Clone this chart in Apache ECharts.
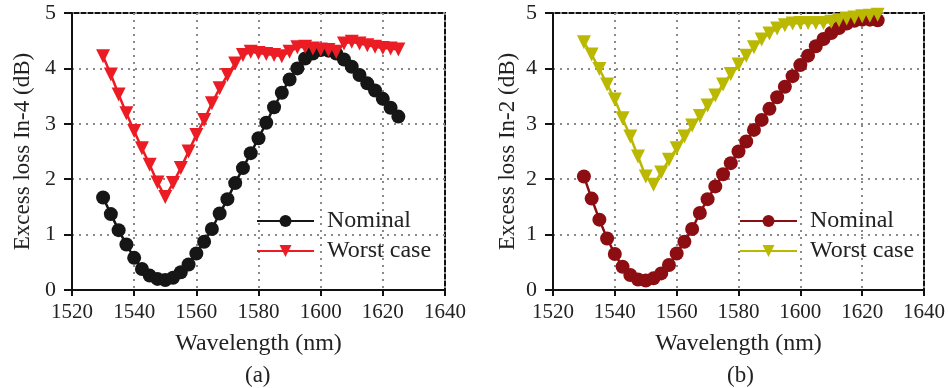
<!DOCTYPE html>
<html><head><meta charset="utf-8">
<script src="https://cdn.jsdelivr.net/npm/echarts@6/dist/echarts.min.js"></script>
<style>html,body{margin:0;padding:0;background:#fff}#c{width:948px;height:388px}</style>
</head><body><div id="c"></div>
<script>
var wavelengths = [1530,1532.5,1535,1537.5,1540,1542.5,1545,1547.5,1550,1552.5,1555,1557.5,1560,1562.5,1565,1567.5,1570,1572.5,1575,1577.5,1580,1582.5,1585,1587.5,1590,1592.5,1595,1597.5,1600,1602.5,1605,1607.5,1610,1612.5,1615,1617.5,1620,1622.5,1625];
var nominalA = [1.67,1.37,1.08,0.82,0.58,0.38,0.26,0.20,0.18,0.22,0.32,0.46,0.66,0.87,1.10,1.38,1.64,1.93,2.20,2.47,2.74,3.02,3.30,3.56,3.80,4.00,4.18,4.27,4.33,4.32,4.27,4.16,4.03,3.88,3.73,3.60,3.45,3.29,3.13];
var worstA = [4.22,3.89,3.53,3.19,2.87,2.56,2.26,1.94,1.68,1.93,2.20,2.50,2.80,3.07,3.37,3.64,3.88,4.09,4.24,4.30,4.28,4.26,4.24,4.22,4.30,4.38,4.39,4.36,4.34,4.33,4.30,4.45,4.48,4.45,4.42,4.39,4.37,4.36,4.34];
var nominalB = [2.05,1.65,1.27,0.93,0.65,0.42,0.27,0.19,0.17,0.21,0.30,0.45,0.66,0.87,1.10,1.39,1.64,1.87,2.09,2.29,2.50,2.68,2.89,3.07,3.27,3.48,3.67,3.86,4.06,4.23,4.40,4.53,4.64,4.73,4.81,4.86,4.88,4.88,4.87];
var worstB = [4.47,4.25,3.99,3.71,3.44,3.10,2.77,2.41,2.05,1.90,2.12,2.35,2.56,2.77,2.97,3.14,3.33,3.51,3.71,3.90,4.07,4.23,4.38,4.52,4.63,4.72,4.78,4.81,4.82,4.82,4.82,4.82,4.84,4.87,4.90,4.92,4.94,4.95,4.97];
var xTicks = [1520,1540,1560,1580,1600,1620,1640];
var yTicks = [0,1,2,3,4,5];

function pairs(xs, ys){ return xs.map(function(x,i){return [x, ys[i]];}); }
var FONT = 'Liberation Serif';
function xAxis(idx){
  return {gridIndex: idx, type:'value', min:xTicks[0], max:xTicks[xTicks.length-1], interval:20,
    name:'Wavelength (nm)', nameLocation:'middle', nameGap:42,
    nameTextStyle:{fontFamily:FONT, fontSize:24, color:'#222'},
    axisLine:{show:true, onZero:false, lineStyle:{color:'#111', width:2}},
    axisTick:{show:true, inside:false, length:6, lineStyle:{color:'#111', width:2}},
    axisLabel:{fontFamily:FONT, fontSize:21, color:'#222', margin:12, formatter:function(v){return String(v);}},
    splitLine:{show:true, lineStyle:{color:'#8a8a8a', width:2, type:[2,5]}}};
}
function yAxis(idx, name, gap){
  return {gridIndex: idx, type:'value', min:yTicks[0], max:yTicks[yTicks.length-1], interval:1,
    name:name, nameLocation:'middle', nameGap:gap, nameRotate:90,
    nameTextStyle:{fontFamily:FONT, fontSize:23, color:'#222'},
    axisLine:{show:true, onZero:false, lineStyle:{color:'#111', width:2}},
    axisTick:{show:true, inside:false, length:8, lineStyle:{color:'#111', width:2}},
    axisLabel:{fontFamily:FONT, fontSize:22, color:'#222', margin:16, formatter:function(v){return String(v);}},
    splitLine:{show:true, lineStyle:{color:'#8a8a8a', width:2, type:[2,5]}}};
}
function lineSeries(name, xi, data, color, symbol, rot){
  return {name:name, type:'line', xAxisIndex:xi, yAxisIndex:xi, data:data,
    symbol:symbol, symbolSize:14, symbolRotate:rot||0, showSymbol:true,
    lineStyle:{color:color, width:2.5}, itemStyle:{color:color}, animation:false};
}
var chart = echarts.init(document.getElementById('c'), null, {renderer:'canvas'});
var strip = function(n){ return n.replace(' (b)',''); };
var legendText = {fontFamily:FONT, fontSize:24, color:'#222', padding:[0,0,0,8]};
chart.setOption({
  backgroundColor:'#fff',
  animation:false,
  grid:[
    {left:72, top:13, width:373, height:277, show:true, borderColor:'#111', borderWidth:2, backgroundColor:'transparent'},
    {left:553, top:13, width:374, height:277, show:true, borderColor:'#111', borderWidth:2, backgroundColor:'transparent'}
  ],
  xAxis:[xAxis(0), xAxis(1)],
  yAxis:[yAxis(0,'Excess loss In-4 (dB)',38), yAxis(1,'Excess loss In-2 (dB)',34)],
  legend:[
    {data:['Nominal','Worst case'], orient:'vertical', left:256, top:209, itemWidth:57, itemHeight:15, itemGap:6,
     textStyle:legendText, formatter:strip, backgroundColor:'transparent', padding:0},
    {data:['Nominal (b)','Worst case (b)'], orient:'vertical', left:739, top:209, itemWidth:57, itemHeight:15, itemGap:6,
     textStyle:legendText, formatter:strip, backgroundColor:'transparent', padding:0}
  ],
  graphic:[
    {type:'text', left:245, top:364, style:{text:'(a)', font:'23px "Liberation Serif"', fill:'#222'}},
    {type:'text', left:727, top:364, style:{text:'(b)', font:'23px "Liberation Serif"', fill:'#222'}}
  ],
  series:[
    lineSeries('Nominal', 0, pairs(wavelengths, nominalA), '#161616', 'circle'),
    lineSeries('Worst case', 0, pairs(wavelengths, worstA), '#ec1c24', 'triangle', 180),
    lineSeries('Nominal (b)', 1, pairs(wavelengths, nominalB), '#8c0e12', 'circle'),
    lineSeries('Worst case (b)', 1, pairs(wavelengths, worstB), '#bab800', 'triangle', 180)
  ]
});
</script></body></html>
